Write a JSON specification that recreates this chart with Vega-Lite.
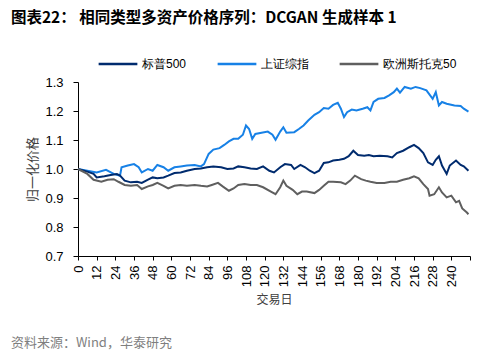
{
  "$schema": "https://vega.github.io/schema/vega-lite/v6.json",
  "padding": {"left": 10, "top": 10, "right": 20, "bottom": 5},
  "background": "white",
  "title": {"text": "图表22：    相同类型多资产价格序列：DCGAN 生成样本 1", "anchor": "start", "fontSize": 15.5, "fontWeight": "bold", "font": "Noto Sans CJK SC", "color": "#000000", "offset": 17},
  "resolve": {"legend": {"color": "independent"}},
  "vconcat": [
    {
      "width": 392,
      "height": 174,
      "title": {"text": "资料来源：Wind，华泰研究", "orient": "bottom", "anchor": "start", "fontSize": 13, "fontWeight": "normal", "font": "Noto Sans CJK SC", "color": "#7f7f7f", "offset": 31, "dx": -16},
      "data": {
        "values": [
          {"d":0,"s":"上证综指","v":1.0},{"d":6,"s":"上证综指","v":0.994},{"d":12,"s":"上证综指","v":0.988},{"d":18,"s":"上证综指","v":0.997},{"d":23,"s":"上证综指","v":0.983},{"d":27,"s":"上证综指","v":0.977},{"d":28,"s":"上证综指","v":1.006},{"d":32,"s":"上证综指","v":1.012},{"d":36,"s":"上证综指","v":1.017},{"d":39,"s":"上证综指","v":1.006},{"d":41,"s":"上证综指","v":0.988},{"d":45,"s":"上证综指","v":1.0},{"d":48,"s":"上证综指","v":0.994},{"d":51,"s":"上证综指","v":1.014},{"d":55,"s":"上证综指","v":1.006},{"d":58,"s":"上证综指","v":0.994},{"d":62,"s":"上证综指","v":1.006},{"d":66,"s":"上证综指","v":1.009},{"d":70,"s":"上证综指","v":1.012},{"d":75,"s":"上证综指","v":1.014},{"d":79,"s":"上证综指","v":1.009},{"d":81,"s":"上证综指","v":1.017},{"d":84,"s":"上证综指","v":1.052},{"d":87,"s":"上证综指","v":1.067},{"d":91,"s":"上证综指","v":1.072},{"d":94,"s":"上证综指","v":1.083},{"d":97,"s":"上证综指","v":1.095},{"d":100,"s":"上证综指","v":1.104},{"d":103,"s":"上证综指","v":1.104},{"d":106,"s":"上证综指","v":1.118},{"d":108,"s":"上证综指","v":1.15},{"d":110,"s":"上证综指","v":1.138},{"d":112,"s":"上证综指","v":1.104},{"d":114,"s":"上证综指","v":1.121},{"d":118,"s":"上证综指","v":1.125},{"d":122,"s":"上证综指","v":1.129},{"d":125,"s":"上证综指","v":1.118},{"d":127,"s":"上证综指","v":1.101},{"d":130,"s":"上证综指","v":1.129},{"d":132,"s":"上证综指","v":1.144},{"d":134,"s":"上证综指","v":1.125},{"d":139,"s":"上证综指","v":1.127},{"d":142,"s":"上证综指","v":1.138},{"d":145,"s":"上证综指","v":1.15},{"d":148,"s":"上证综指","v":1.167},{"d":152,"s":"上证综指","v":1.187},{"d":155,"s":"上证综指","v":1.196},{"d":158,"s":"上证综指","v":1.21},{"d":161,"s":"上证综指","v":1.208},{"d":164,"s":"上证综指","v":1.221},{"d":167,"s":"上证综指","v":1.228},{"d":169,"s":"上证综指","v":1.208},{"d":171,"s":"上证综指","v":1.179},{"d":173,"s":"上证综指","v":1.196},{"d":176,"s":"上证综指","v":1.205},{"d":179,"s":"上证综指","v":1.202},{"d":183,"s":"上证综指","v":1.208},{"d":186,"s":"上证综指","v":1.213},{"d":188,"s":"上证综指","v":1.202},{"d":190,"s":"上证综指","v":1.231},{"d":193,"s":"上证综指","v":1.242},{"d":197,"s":"上证综指","v":1.245},{"d":200,"s":"上证综指","v":1.254},{"d":203,"s":"上证综指","v":1.265},{"d":205,"s":"上证综指","v":1.277},{"d":207,"s":"上证综指","v":1.263},{"d":210,"s":"上证综指","v":1.283},{"d":214,"s":"上证综指","v":1.277},{"d":217,"s":"上证综指","v":1.283},{"d":220,"s":"上证综指","v":1.279},{"d":224,"s":"上证综指","v":1.271},{"d":228,"s":"上证综指","v":1.242},{"d":230,"s":"上证综指","v":1.265},{"d":232,"s":"上证综指","v":1.219},{"d":234,"s":"上证综指","v":1.231},{"d":237,"s":"上证综指","v":1.225},{"d":242,"s":"上证综指","v":1.219},{"d":246,"s":"上证综指","v":1.217},{"d":248,"s":"上证综指","v":1.208},{"d":251,"s":"上证综指","v":1.198},
          {"d":0,"s":"标普500","v":1.0},{"d":6,"s":"标普500","v":0.991},{"d":10,"s":"标普500","v":0.983},{"d":12,"s":"标普500","v":0.971},{"d":17,"s":"标普500","v":0.975},{"d":21,"s":"标普500","v":0.979},{"d":25,"s":"标普500","v":0.983},{"d":27,"s":"标普500","v":0.977},{"d":30,"s":"标普500","v":0.96},{"d":34,"s":"标普500","v":0.954},{"d":38,"s":"标普500","v":0.956},{"d":41,"s":"标普500","v":0.952},{"d":45,"s":"标普500","v":0.963},{"d":48,"s":"标普500","v":0.971},{"d":51,"s":"标普500","v":0.968},{"d":55,"s":"标普500","v":0.971},{"d":58,"s":"标普500","v":0.977},{"d":62,"s":"标普500","v":0.986},{"d":66,"s":"标普500","v":0.988},{"d":70,"s":"标普500","v":0.994},{"d":75,"s":"标普500","v":1.0},{"d":79,"s":"标普500","v":1.002},{"d":83,"s":"标普500","v":1.006},{"d":87,"s":"标普500","v":1.009},{"d":92,"s":"标普500","v":1.006},{"d":96,"s":"标普500","v":1.0},{"d":100,"s":"标普500","v":1.002},{"d":103,"s":"标普500","v":1.009},{"d":107,"s":"标普500","v":1.006},{"d":111,"s":"标普500","v":1.002},{"d":115,"s":"标普500","v":1.0},{"d":119,"s":"标普500","v":1.009},{"d":123,"s":"标普500","v":0.994},{"d":126,"s":"标普500","v":0.988},{"d":130,"s":"标普500","v":1.006},{"d":133,"s":"标普500","v":1.017},{"d":137,"s":"标普500","v":1.014},{"d":139,"s":"标普500","v":1.0},{"d":143,"s":"标普500","v":1.014},{"d":146,"s":"标普500","v":1.006},{"d":149,"s":"标普500","v":0.994},{"d":152,"s":"标普500","v":0.986},{"d":155,"s":"标普500","v":0.994},{"d":158,"s":"标普500","v":1.021},{"d":161,"s":"标普500","v":1.023},{"d":164,"s":"标普500","v":1.029},{"d":168,"s":"标普500","v":1.032},{"d":171,"s":"标普500","v":1.035},{"d":174,"s":"标普500","v":1.044},{"d":177,"s":"标普500","v":1.063},{"d":180,"s":"标普500","v":1.048},{"d":184,"s":"标普500","v":1.046},{"d":187,"s":"标普500","v":1.048},{"d":190,"s":"标普500","v":1.044},{"d":194,"s":"标普500","v":1.046},{"d":199,"s":"标普500","v":1.044},{"d":202,"s":"标普500","v":1.04},{"d":205,"s":"标普500","v":1.055},{"d":209,"s":"标普500","v":1.063},{"d":213,"s":"标普500","v":1.075},{"d":216,"s":"标普500","v":1.083},{"d":219,"s":"标普500","v":1.072},{"d":222,"s":"标普500","v":1.055},{"d":225,"s":"标普500","v":1.023},{"d":228,"s":"标普500","v":1.014},{"d":230,"s":"标普500","v":1.032},{"d":232,"s":"标普500","v":1.044},{"d":234,"s":"标普500","v":1.012},{"d":237,"s":"标普500","v":0.983},{"d":239,"s":"标普500","v":1.012},{"d":243,"s":"标普500","v":1.029},{"d":246,"s":"标普500","v":1.014},{"d":248,"s":"标普500","v":1.009},{"d":251,"s":"标普500","v":0.994},
          {"d":0,"s":"欧洲斯托克50","v":1.0},{"d":6,"s":"欧洲斯托克50","v":0.983},{"d":10,"s":"欧洲斯托克50","v":0.963},{"d":15,"s":"欧洲斯托克50","v":0.956},{"d":19,"s":"欧洲斯托克50","v":0.963},{"d":23,"s":"欧洲斯托克50","v":0.965},{"d":26,"s":"欧洲斯托克50","v":0.956},{"d":30,"s":"欧洲斯托克50","v":0.945},{"d":34,"s":"欧洲斯托克50","v":0.942},{"d":38,"s":"欧洲斯托克50","v":0.945},{"d":41,"s":"欧洲斯托克50","v":0.931},{"d":45,"s":"欧洲斯托克50","v":0.94},{"d":48,"s":"欧洲斯托克50","v":0.945},{"d":51,"s":"欧洲斯托克50","v":0.952},{"d":55,"s":"欧洲斯托克50","v":0.942},{"d":58,"s":"欧洲斯托克50","v":0.933},{"d":62,"s":"欧洲斯托克50","v":0.942},{"d":66,"s":"欧洲斯托克50","v":0.945},{"d":70,"s":"欧洲斯托克50","v":0.942},{"d":75,"s":"欧洲斯托克50","v":0.945},{"d":79,"s":"欧洲斯托克50","v":0.942},{"d":83,"s":"欧洲斯托克50","v":0.94},{"d":86,"s":"欧洲斯托克50","v":0.945},{"d":90,"s":"欧洲斯托克50","v":0.952},{"d":93,"s":"欧洲斯托克50","v":0.94},{"d":97,"s":"欧洲斯托克50","v":0.925},{"d":100,"s":"欧洲斯托克50","v":0.933},{"d":103,"s":"欧洲斯托克50","v":0.945},{"d":107,"s":"欧洲斯托克50","v":0.948},{"d":111,"s":"欧洲斯托克50","v":0.945},{"d":115,"s":"欧洲斯托克50","v":0.945},{"d":119,"s":"欧洲斯托克50","v":0.937},{"d":124,"s":"欧洲斯托克50","v":0.922},{"d":127,"s":"欧洲斯托克50","v":0.913},{"d":130,"s":"欧洲斯托克50","v":0.937},{"d":132,"s":"欧洲斯托克50","v":0.96},{"d":134,"s":"欧洲斯托克50","v":0.942},{"d":138,"s":"欧洲斯托克50","v":0.928},{"d":141,"s":"欧洲斯托克50","v":0.913},{"d":144,"s":"欧洲斯托克50","v":0.922},{"d":147,"s":"欧洲斯托克50","v":0.922},{"d":152,"s":"欧洲斯托克50","v":0.917},{"d":155,"s":"欧洲斯托克50","v":0.928},{"d":158,"s":"欧洲斯托克50","v":0.942},{"d":161,"s":"欧洲斯托克50","v":0.956},{"d":164,"s":"欧洲斯托克50","v":0.956},{"d":169,"s":"欧洲斯托克50","v":0.954},{"d":172,"s":"欧洲斯托克50","v":0.948},{"d":175,"s":"欧洲斯托克50","v":0.96},{"d":178,"s":"欧洲斯托克50","v":0.977},{"d":182,"s":"欧洲斯托克50","v":0.965},{"d":185,"s":"欧洲斯托克50","v":0.96},{"d":188,"s":"欧洲斯托克50","v":0.956},{"d":192,"s":"欧洲斯托克50","v":0.952},{"d":197,"s":"欧洲斯托克50","v":0.952},{"d":201,"s":"欧洲斯托克50","v":0.956},{"d":205,"s":"欧洲斯托克50","v":0.956},{"d":209,"s":"欧洲斯托克50","v":0.963},{"d":213,"s":"欧洲斯托克50","v":0.968},{"d":216,"s":"欧洲斯托克50","v":0.975},{"d":219,"s":"欧洲斯托克50","v":0.968},{"d":222,"s":"欧洲斯托克50","v":0.948},{"d":225,"s":"欧洲斯托克50","v":0.931},{"d":226,"s":"欧洲斯托克50","v":0.908},{"d":229,"s":"欧洲斯托克50","v":0.913},{"d":232,"s":"欧洲斯托克50","v":0.937},{"d":234,"s":"欧洲斯托克50","v":0.919},{"d":237,"s":"欧洲斯托克50","v":0.902},{"d":240,"s":"欧洲斯托克50","v":0.908},{"d":243,"s":"欧洲斯托克50","v":0.885},{"d":245,"s":"欧洲斯托克50","v":0.89},{"d":247,"s":"欧洲斯托克50","v":0.864},{"d":250,"s":"欧洲斯托克50","v":0.85},{"d":251,"s":"欧洲斯托克50","v":0.844}
        ]
      },
      "mark": {"type": "line", "strokeWidth": 2},
      "encoding": {
        "x": {
          "field": "d", "type": "quantitative",
          "scale": {"domain": [0, 252], "nice": false, "zero": false},
          "axis": {
            "title": "交易日", "values": [0,12,24,36,48,60,72,84,96,108,120,132,144,156,168,180,192,204,216,228,240,252],
            "labelExpr": "datum.value == 252 ? '' : datum.label",
            "labelAngle": -90, "labelFontSize": 13, "labelPadding": 5, "tickSize": 4,
            "titleFontSize": 12, "titlePadding": 8, "grid": false
          }
        },
        "y": {
          "field": "v", "type": "quantitative",
          "scale": {"domain": [0.7, 1.3], "nice": false, "zero": false},
          "axis": {
            "title": "归一化价格", "values": [0.7,0.8,0.9,1.0,1.1,1.2,1.3], "format": ".1f",
            "labelFontSize": 13, "labelPadding": 10, "tickSize": 5,
            "titleFontSize": 13, "titlePadding": 5, "grid": false
          }
        },
        "color": {
          "field": "s", "type": "nominal",
          "scale": {"domain": ["标普500", "上证综指", "欧洲斯托克50"], "range": ["#002b6e", "#1781e6", "#5f5f5f"]},
          "legend": {
            "title": null, "orient": "none", "direction": "horizontal", "legendX": 19, "legendY": -39,
            "symbolType": "stroke", "symbolSize": 1500, "symbolStrokeWidth": 2.5, "labelFontSize": 12,
            "labelOffset": 3, "columnPadding": 25, "labelColor": "#000000"
          }
        }
      }
    }
  ],
  "config": {
    "font": "Liberation Sans",
    "view": {"stroke": null},
    "axis": {"domainColor": "#000000", "tickColor": "#000000", "labelColor": "#000000", "titleColor": "#404040", "titleFont": "Noto Sans CJK SC", "titleFontWeight": "normal", "labelFont": "Liberation Sans"},
    "legend": {"labelFont": "Liberation Sans"}
  }
}
